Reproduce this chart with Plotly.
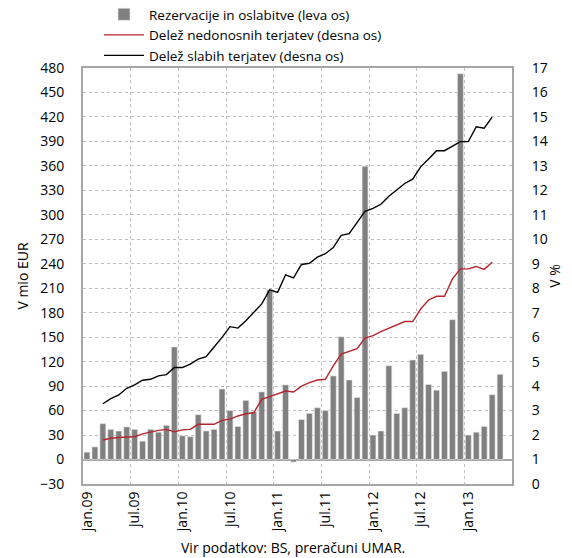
import plotly.graph_objects as go

# Month categories (jan 2009 - jun 2013)
month_names = ["jan", "feb", "mar", "apr", "maj", "jun", "jul", "avg", "sep", "okt", "nov", "dec"]
years = ["09", "10", "11", "12", "13"]
months = [f"{m}.{y}" for y in years for m in month_names][:54]

# Rezervacije in oslabitve (mio EUR), jan.09 - maj.13
provisions = [9, 15.5, 44, 37, 35, 40, 37, 22.5, 37, 33.5, 42, 138,
              29, 28, 55, 35, 37, 86.5, 60, 40.5, 72.5, 58.5, 83, 208,
              35, 91.5, -3, 49, 56.5, 63.5, 60, 102.5, 150.5, 97.5, 76, 359.5,
              30, 35, 115, 56.5, 63.5, 122, 129, 92, 85, 108, 171.5, 473,
              30, 33.5, 40.5, 79.5, 104.5]

# Deleži (%), mar.09 - apr.13
line_months = months[2:52]
nonperforming = [1.80, 1.87, 1.90, 1.93, 1.93, 2.05, 2.13, 2.19, 2.23, 2.13,
                 2.21, 2.23, 2.44, 2.44, 2.44, 2.60, 2.65, 2.78, 2.87, 2.91,
                 3.46, 3.57, 3.69, 3.80, 3.76, 4.00, 4.14, 4.25, 4.28, 4.83,
                 5.31, 5.41, 5.53, 5.96, 6.06, 6.23, 6.36, 6.51, 6.64, 6.64,
                 7.15, 7.52, 7.67, 7.67, 8.38, 8.79, 8.79, 8.89, 8.77, 9.06]
weak = [3.28, 3.49, 3.64, 3.91, 4.05, 4.24, 4.28, 4.42, 4.47, 4.76,
        4.76, 4.90, 5.10, 5.20, 5.60, 5.99, 6.43, 6.37, 6.67, 7.01,
        7.36, 7.93, 7.83, 8.55, 8.42, 8.97, 9.02, 9.27, 9.41, 9.66,
        10.16, 10.23, 10.66, 11.14, 11.26, 11.43, 11.76, 12.01, 12.28, 12.46,
        12.96, 13.28, 13.62, 13.62, 13.81, 13.99, 13.99, 14.60, 14.54, 14.99]

# positions derived from the month list
bar_x = list(range(len(provisions)))
line_x = [months.index(m) for m in line_months]
tick_idx = [i for i, m in enumerate(months) if m.startswith("jan") or m.startswith("jul")][:9]
tick_text = [months[i] for i in tick_idx]
grid_positions = [i - 0.5 for i in tick_idx if i > 0][:8]

FONT = "Open Sans"
GRID = "#c0c0c0"
BORDER = "#a6a6a6"
CLEAR = "rgba(0,0,0,0)"

fig = go.Figure()
fig.add_trace(go.Bar(x=bar_x, y=provisions, name="Rezervacije in oslabitve (leva os)",
                     marker=dict(color="#808080", line=dict(color="#e6e6e6", width=0.6)),
                     width=0.74))
fig.add_trace(go.Scatter(x=line_x, y=nonperforming, name="Delež nedonosnih terjatev (desna os)",
                         mode="lines", line=dict(color="#b5252b", width=1.4), yaxis="y2"))
fig.add_trace(go.Scatter(x=line_x, y=weak, name="Delež slabih terjatev (desna os)",
                         mode="lines", line=dict(color="#000000", width=1.4), yaxis="y2"))

fig.update_layout(
    width=572, height=558,
    margin=dict(l=83, r=60, t=68, b=74, autoexpand=False),
    paper_bgcolor="white", plot_bgcolor="white",
    font=dict(family=FONT, size=14, color="#000000"),
    showlegend=True,
    legend=dict(x=(99 - 83) / 429, y=1 + (68 + 1) / 416, xanchor="left", yanchor="top",
                bgcolor="rgba(0,0,0,0)", font=dict(size=13.5, family=FONT), tracegroupgap=0,
                itemwidth=40),
    xaxis=dict(type="linear", range=[-0.5, len(months) - 0.5],
               tickmode="array", tickvals=tick_idx, ticktext=tick_text,
               tickangle=-90, showgrid=False, ticks="", ticklen=0, zeroline=False,
               minor=dict(tickmode="array", tickvals=grid_positions, showgrid=True,
                          gridcolor=GRID, griddash="dot", gridwidth=1, ticks=""),
               showline=True, linecolor=BORDER, linewidth=2, mirror=True,
               tickfont=dict(size=14), automargin=False),
    yaxis=dict(range=[-30, 480], tickmode="linear", tick0=-30, dtick=30,
               showgrid=True, gridcolor=GRID, griddash="dot", gridwidth=1,
               zeroline=True, zerolinecolor=BORDER, zerolinewidth=2,
               showline=True, linecolor=BORDER, linewidth=2, mirror=True,
               ticks="outside", ticklen=14, tickcolor=CLEAR,
               title=dict(text="V mio EUR", standoff=8, font=dict(size=14)),
               tickfont=dict(size=14), automargin=False),
    yaxis2=dict(range=[0, 17], tickmode="linear", tick0=0, dtick=1, overlaying="y", side="right",
                showgrid=False, zeroline=False, ticks="outside", ticklen=16, tickcolor=CLEAR,
                title=dict(text="V %", standoff=3, font=dict(size=14)),
                tickfont=dict(size=14), automargin=False),
    annotations=[dict(text="Vir podatkov: BS, preračuni UMAR.", xref="paper", yref="paper",
                      x=0.49, y=-(547 - 484) / 416, xanchor="center", yanchor="middle", showarrow=False,
                      font=dict(size=14, family=FONT))],
)

fig.write_html("out.html", post_script="document.body.style.margin='0';",
               config={"displayModeBar": False})
